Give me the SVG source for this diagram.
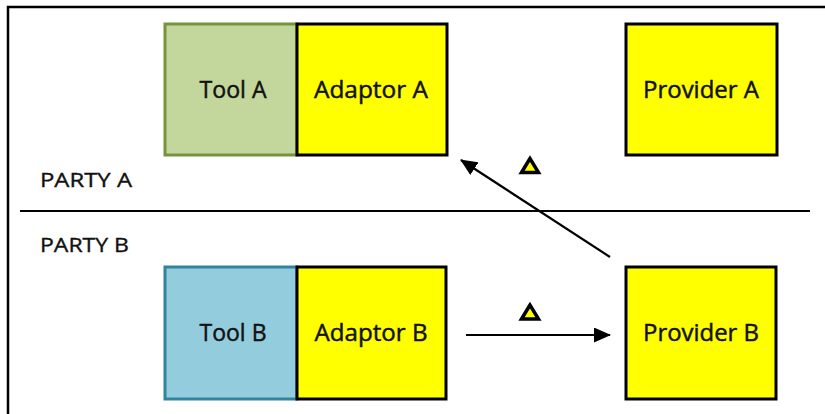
<svg xmlns="http://www.w3.org/2000/svg" width="825" height="414" viewBox="0 0 825 414">
  <defs>
    <style>
      .box { stroke-width: 3; }
      .tool-a { fill: #C3D69B; stroke: #77933C; }
      .tool-b { fill: #93CDDD; stroke: #31849B; }
      .yellow { fill: #FFFF00; stroke: #000000; }
      .label { font-family: "Open Sans", "Liberation Sans", sans-serif; font-size: 23px; fill: #111111; stroke: #111111; stroke-width: 0.45; text-anchor: middle; }
      .party { font-family: "Open Sans", "Liberation Sans", sans-serif; font-size: 20px; fill: #111111; stroke: #111111; stroke-width: 0.35; }
      .conn { stroke: #000000; stroke-width: 2.2; fill: none; }
      .delta { fill: #FFFF00; stroke: #000000; stroke-width: 3.5; stroke-linejoin: miter; }
    </style>
    <marker id="arrowhead" viewBox="0 0 17 15" refX="16" refY="7.5" markerWidth="17" markerHeight="15" markerUnits="userSpaceOnUse" orient="auto">
      <path d="M0,0 L17,7.5 L0,15 z" fill="#000000"/>
    </marker>
  </defs>

  <rect width="825" height="414" fill="#ffffff"/>

  <!-- frame and party divider -->
  <path d="M8,414 V7 H825" fill="none" stroke="#000000" stroke-width="2.5"/>
  <line x1="20" y1="211" x2="810" y2="211" stroke="#000000" stroke-width="2"/>
  <text class="party" x="40" y="187" textLength="92" lengthAdjust="spacingAndGlyphs">PARTY A</text>
  <text class="party" x="40" y="252" textLength="89" lengthAdjust="spacingAndGlyphs">PARTY B</text>

  <!-- party A -->
  <g id="tool-a">
    <rect class="box tool-a" x="165" y="24" width="132" height="131"/>
    <text class="label" x="233" y="98" textLength="67" lengthAdjust="spacingAndGlyphs">Tool A</text>
  </g>
  <g id="adaptor-a">
    <rect class="box yellow" x="297" y="24" width="150" height="131"/>
    <text class="label" x="371" y="98" textLength="114" lengthAdjust="spacingAndGlyphs">Adaptor A</text>
  </g>
  <g id="provider-a">
    <rect class="box yellow" x="626" y="24" width="151" height="131"/>
    <text class="label" x="701" y="98" textLength="116" lengthAdjust="spacingAndGlyphs">Provider A</text>
  </g>

  <!-- party B -->
  <g id="tool-b">
    <rect class="box tool-b" x="165" y="267" width="132" height="132"/>
    <text class="label" x="233" y="341" textLength="67" lengthAdjust="spacingAndGlyphs">Tool B</text>
  </g>
  <g id="adaptor-b">
    <rect class="box yellow" x="297" y="267" width="149" height="132"/>
    <text class="label" x="371" y="341" textLength="113" lengthAdjust="spacingAndGlyphs">Adaptor B</text>
  </g>
  <g id="provider-b">
    <rect class="box yellow" x="626" y="267" width="150" height="132"/>
    <text class="label" x="701" y="341" textLength="116" lengthAdjust="spacingAndGlyphs">Provider B</text>
  </g>

  <!-- connectors -->
  <g id="connectors">
    <line class="conn" x1="610" y1="257" x2="461" y2="160" marker-end="url(#arrowhead)"/>
    <line class="conn" x1="466" y1="335" x2="610" y2="335" marker-end="url(#arrowhead)"/>
    <polygon class="delta" points="530,158.5 521.5,172.5 538.5,172.5"/>
    <polygon class="delta" points="530,305 521.5,319 538.5,319"/>
  </g>
</svg>
